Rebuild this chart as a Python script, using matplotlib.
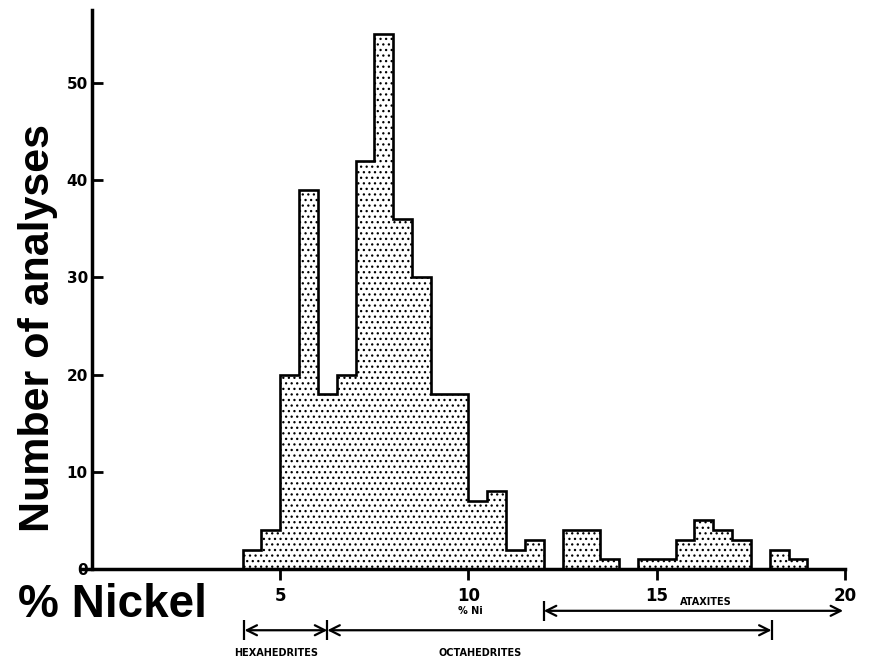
import matplotlib.pyplot as plt
import numpy as np

# histogram of Ni content in iron meteorites (bins of 0.5 % Ni)
bin_edges = [4.0, 4.5, 5.0, 5.5, 6.0, 6.5, 7.0, 7.5, 8.0, 8.5, 9.0, 9.5, 10.0,
             10.5, 11.0, 11.5, 12.0, 12.5, 13.0, 13.5, 14.0, 14.5, 15.0, 15.5,
             16.0, 16.5, 17.0, 17.5, 18.0, 18.5, 19.0]
counts = [2, 4, 20, 39, 18, 20, 42, 55, 36, 30, 18, 18, 7,
          8, 2, 3, 0, 4, 4, 1, 0, 1, 1, 3,
          5, 4, 3, 0, 2, 1]
yticks = [0, 10, 20, 30, 40, 50]
xticks = [5, 10, 15, 20]

# ranges of the meteorite classes (% Ni)
hexa = (4.05, 6.25)
octa = (6.25, 18.05)
atax = (12.0, 19.95)

plt.rcParams['hatch.linewidth'] = 0.9
fig = plt.figure(figsize=(8.69, 6.61), dpi=100)
ax = fig.add_axes([80.7/869, 92/661, (845-80.7)/869, 559/661])

ax.stairs(counts, bin_edges, fill=True, facecolor='white', edgecolor='black',
          hatch='...', linewidth=1.9)

ax.set_xlim(-0.3, 20)
ax.set_ylim(0, 57.5)
ax.spines['top'].set_visible(False)
ax.spines['right'].set_visible(False)
ax.spines['left'].set_position(('data', 0))
ax.spines['left'].set_linewidth(2.5)
ax.spines['bottom'].set_linewidth(2.5)

ax.set_yticks(yticks)
ax.set_yticklabels([str(v) for v in yticks], fontsize=11, fontweight='bold')
ax.set_xticks(xticks)
ax.set_xticklabels([str(v) for v in xticks], fontsize=12, fontweight='bold')
ax.tick_params(axis='y', direction='in', length=8, width=2, pad=3)
ax.tick_params(axis='x', direction='out', length=8, width=2, pad=5)

# class ranges below the axis
ya = -4.3
yh = -6.3
for x0, x1, y in [(hexa[0], hexa[1], yh), (octa[0], octa[1], yh), (atax[0], atax[1], ya)]:
    ax.annotate('', xy=(x1, y), xytext=(x0, y), annotation_clip=False,
                arrowprops=dict(arrowstyle='<->', lw=1.6, color='black',
                                mutation_scale=18, shrinkA=0, shrinkB=0))
ax.plot([hexa[0], hexa[1], octa[1]], [yh, yh, yh], ls='none', marker='|',
        ms=14, mew=1.6, color='black', clip_on=False)
ax.plot([atax[0]], [ya], ls='none', marker='|', ms=14, mew=1.6,
        color='black', clip_on=False)

ax.text(16.3, -3.4, 'ATAXITES', fontsize=7, fontweight='bold', ha='center', va='center')
ax.text(4.9, -8.6, 'HEXAHEDRITES', fontsize=7, fontweight='bold', ha='center', va='center')
ax.text(10.3, -8.6, 'OCTAHEDRITES', fontsize=7, fontweight='bold', ha='center', va='center')
ax.text(10.05, -4.3, '% Ni', fontsize=7, fontweight='bold', ha='center', va='center')

fig.text(18/869, 1-605/661, '% Nickel', fontsize=33, fontweight='bold',
         family='Liberation Sans', ha='left', va='center')
fig.text(38/869, 1-328/661, 'Number of analyses', fontsize=31, fontweight='bold',
         family='Liberation Sans', ha='center', va='center', rotation=90)

plt.savefig('out.png', dpi=100)
